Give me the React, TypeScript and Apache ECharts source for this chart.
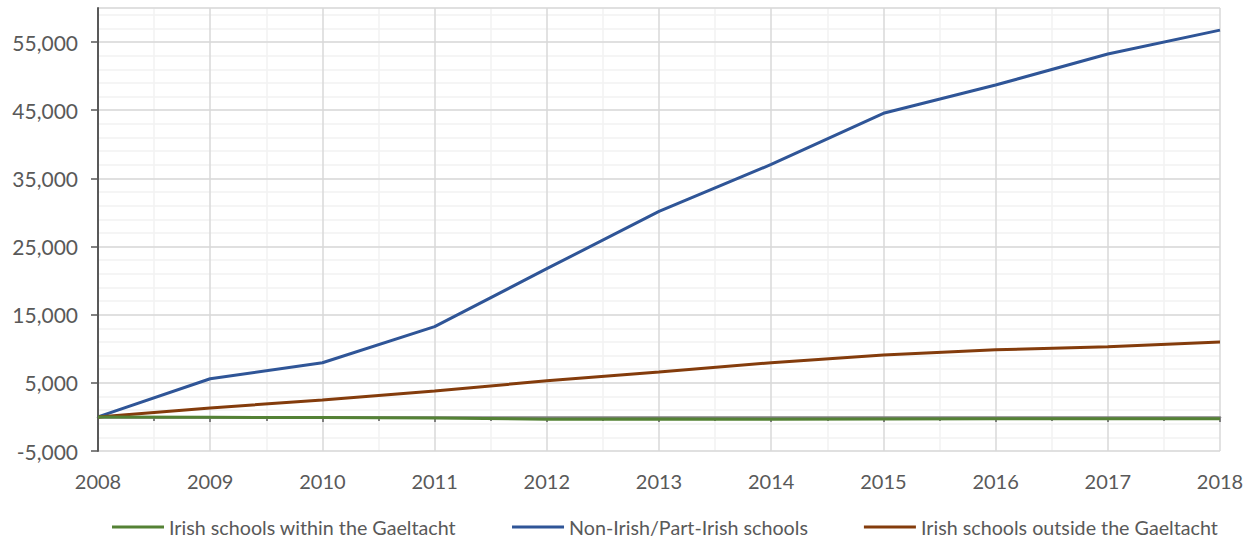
import React, { useEffect, useRef } from "react";
import * as echarts from "echarts";

const years = [2008, 2009, 2010, 2011, 2012, 2013, 2014, 2015, 2016, 2017, 2018];
const withinGaeltacht = [0, -50, -100, -150, -350, -300, -350, -300, -250, -250, -250];
const nonIrish = [0, 5600, 7950, 13250, 21750, 30150, 37050, 44550, 48700, 53250, 56750];
const outsideGaeltacht = [0, 1300, 2500, 3800, 5300, 6600, 7950, 9100, 9850, 10300, 11000];

const seriesNames = [
  "Irish schools within the Gaeltacht",
  "Non-Irish/Part-Irish schools",
  "Irish schools outside the Gaeltacht",
];
const seriesColors = ["#548235", "#2F5597", "#843C0C"];
const seriesValues = [withinGaeltacht, nonIrish, outsideGaeltacht];

const FONT = "Lato";

export default function App() {
  const ref = useRef<HTMLDivElement>(null);
  useEffect(() => {
    if (!ref.current) return;
    const chart = echarts.init(ref.current, undefined, { renderer: "svg" });
    chart.setOption({
      animation: false,
      backgroundColor: "#ffffff",
      textStyle: { fontFamily: FONT },
      grid: { left: 98, right: 39, top: 8, bottom: 92, containLabel: false },
      legend: {
        top: 517,
        left: 112,
        padding: 0,
        itemWidth: 52,
        itemHeight: 3,
        itemGap: 56,
        icon: "rect",
        textStyle: { fontSize: 19.7, color: "#595959", fontFamily: FONT, padding: [0, 0, 0, 0] },
        data: seriesNames,
      },
      xAxis: [
        {
          type: "value",
          min: 2008,
          max: 2018,
          interval: 1,
          position: "bottom",
          axisLine: { show: false, onZero: false },
          axisTick: { show: false },
          axisLabel: {
            formatter: (v: number) => String(v),
            fontSize: 20,
            color: "#595959",
            margin: 20,
            fontFamily: FONT,
          },
          splitLine: { show: true, lineStyle: { color: "#D9D9D9", width: 1.5 } },
          minorTick: { show: false, splitNumber: 2 },
          minorSplitLine: { show: true, lineStyle: { color: "#F2F2F2", width: 1.5 } },
        },
        {
          type: "value",
          min: 2008,
          max: 2018,
          interval: 1,
          position: "bottom",
          axisLine: { show: true, onZero: true, lineStyle: { color: "#808080", width: 2.5 } },
          axisTick: { show: true, length: 5, lineStyle: { color: "#808080", width: 2 } },
          minorTick: { show: true, splitNumber: 2, length: 4, lineStyle: { color: "#808080", width: 2 } },
          axisLabel: { show: false },
          splitLine: { show: false },
        },
      ],
      yAxis: [
        {
          type: "value",
          min: -5000,
          max: 60000,
          interval: 10000,
          position: "left",
          z: 1,
          axisLine: { show: true, onZero: false, lineStyle: { color: "#595959", width: 2 } },
          axisTick: { show: true, length: 7, lineStyle: { color: "#595959", width: 1.5 } },
          axisLabel: {
            formatter: (v: number) => v.toLocaleString("en-US"),
            fontSize: 21,
            color: "#595959",
            margin: 20,
            showMaxLabel: false,
            fontFamily: FONT,
          },
          splitLine: { show: true, lineStyle: { color: "#D9D9D9", width: 1.5 } },
        },
        {
          type: "value",
          min: -5000,
          max: 60000,
          interval: 2000,
          position: "left",
          z: 0,
          axisLine: { show: false, onZero: false },
          axisTick: { show: false },
          axisLabel: { show: false },
          splitLine: { show: true, lineStyle: { color: "#F2F2F2", width: 1.5 } },
        },
      ],
      series: seriesNames.map((name, i) => ({
        name,
        type: "line",
        xAxisIndex: 0,
        yAxisIndex: 0,
        symbol: "none",
        z: i === 0 ? 4 : 3,
        color: seriesColors[i],
        lineStyle: { color: seriesColors[i], width: 3 },
        data: years.map((y, j) => [y, seriesValues[i][j]]),
      })),
    });
    return () => chart.dispose();
  }, []);
  return (
    <div
      ref={ref}
      style={{ position: "absolute", left: 0, top: 0, width: 1259, height: 543 }}
    />
  );
}
